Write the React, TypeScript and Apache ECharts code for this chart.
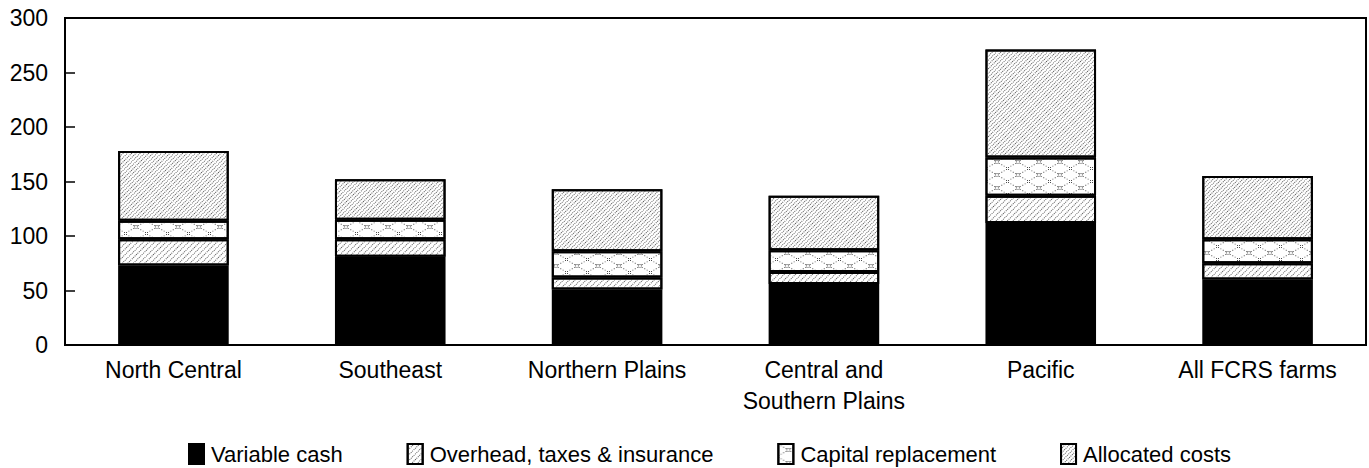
import React, { useEffect, useRef } from "react";
import * as echarts from "echarts";

const categories = [
  "North Central",
  "Southeast",
  "Northern Plains",
  "Central and\nSouthern Plains",
  "Pacific",
  "All FCRS farms",
];
const variableCash = [73, 81, 51, 56, 112, 60];
const overhead = [24, 16, 11, 11, 25, 15];
const capitalReplacement = [17, 18, 24, 20, 35, 22];
const allocatedCosts = [64, 37, 57, 50, 99, 58];
const yTicks = [0, 50, 100, 150, 200, 250, 300];
const legendNames = [
  "Variable cash",
  "Overhead, taxes & insurance",
  "Capital replacement",
  "Allocated costs",
];

function latticePath(): string {
  const parts: string[] = [];
  const sq = (x: number, y: number, s: number) =>
    `M${x.toFixed(2)} ${y.toFixed(2)}h${s}v${s}h${-s}Z`;
  for (let k = 0; k <= 8; k++) {
    if (k === 4) continue;
    parts.push(sq(2.5 * k, 1.5 * k, 1));
    parts.push(sq(2.5 * k, 12 - 1.5 * k, 1));
  }
  const r = 1.8;
  for (let a = 0; a < 8; a++) {
    const ang = (a * Math.PI) / 4;
    parts.push(sq(10 + r * Math.cos(ang), 6 + r * Math.sin(ang), 0.9));
  }
  return "path://" + parts.join(" ");
}

export default function App() {
  const ref = useRef<HTMLDivElement>(null);
  useEffect(() => {
    if (!ref.current) return;
    const chart = echarts.init(ref.current, null, { renderer: "svg" });
    const font = "'Liberation Sans', Arial, Helvetica, sans-serif";
    const dotted = (dens: number) => ({
      symbol: "rect",
      symbolSize: 1,
      dashArrayX: [1, 1],
      dashArrayY: [1, dens],
      rotation: -Math.PI / 4,
      color: "#5a5a5a",
      backgroundColor: "#ffffff",
    });
    const border = { borderColor: "#000", borderWidth: 2 };
    chart.setOption({
      animation: false,
      backgroundColor: "#fff",
      textStyle: { fontFamily: font, color: "#000" },
      grid: {
        left: 65,
        right: 3,
        top: 18,
        bottom: 123,
        show: true,
        borderColor: "#000",
        borderWidth: 2,
        containLabel: false,
      },
      legend: {
        bottom: -2,
        left: 183,
        itemWidth: 15,
        itemHeight: 20,
        itemGap: 64,
        icon: "rect",
        textStyle: { fontFamily: font, fontSize: 22, color: "#000", padding: [0, 0, 0, 2] },
        data: legendNames,
      },
      xAxis: {
        type: "category",
        data: categories,
        axisLine: { show: true, lineStyle: { color: "#000", width: 2 } },
        axisTick: { show: false },
        axisLabel: {
          fontFamily: font,
          fontSize: 23,
          color: "#000",
          margin: 9,
          lineHeight: 31,
          interval: 0,
        },
      },
      yAxis: {
        type: "value",
        min: 0,
        max: 300,
        interval: 50,
        axisLine: { show: true, lineStyle: { color: "#000", width: 2 } },
        axisTick: { show: true, inside: true, length: 10, lineStyle: { color: "#000", width: 1.5 } },
        splitLine: { show: false },
        axisLabel: {
          fontFamily: font,
          fontSize: 23,
          color: "#000",
          margin: 17,
          formatter: (v: number) => (yTicks.includes(v) ? String(v) : ""),
        },
      },
      series: [
        {
          name: legendNames[0],
          type: "bar",
          stack: "total",
          barWidth: "51%",
          data: variableCash,
          itemStyle: { color: "#000", ...border },
        },
        {
          name: legendNames[1],
          type: "bar",
          stack: "total",
          data: overhead,
          itemStyle: { color: "#fff", ...border, decal: dotted(3) },
        },
        {
          name: legendNames[2],
          type: "bar",
          stack: "total",
          data: capitalReplacement,
          itemStyle: {
            color: "#fff",
            ...border,
            decal: {
              symbol: latticePath(),
              symbolSize: 1,
              symbolKeepAspect: false,
              dashArrayX: [20, 1],
              dashArrayY: [12, 1],
              rotation: 0,
              color: "#444",
              backgroundColor: "#ffffff",
            },
          },
        },
        {
          name: legendNames[3],
          type: "bar",
          stack: "total",
          data: allocatedCosts,
          itemStyle: { color: "#fff", ...border, decal: dotted(2) },
        },
      ],
    });
    return () => chart.dispose();
  }, []);
  return (
    <div
      ref={ref}
      style={{ position: "fixed", left: 0, top: 0, width: 1369, height: 468 }}
    />
  );
}
